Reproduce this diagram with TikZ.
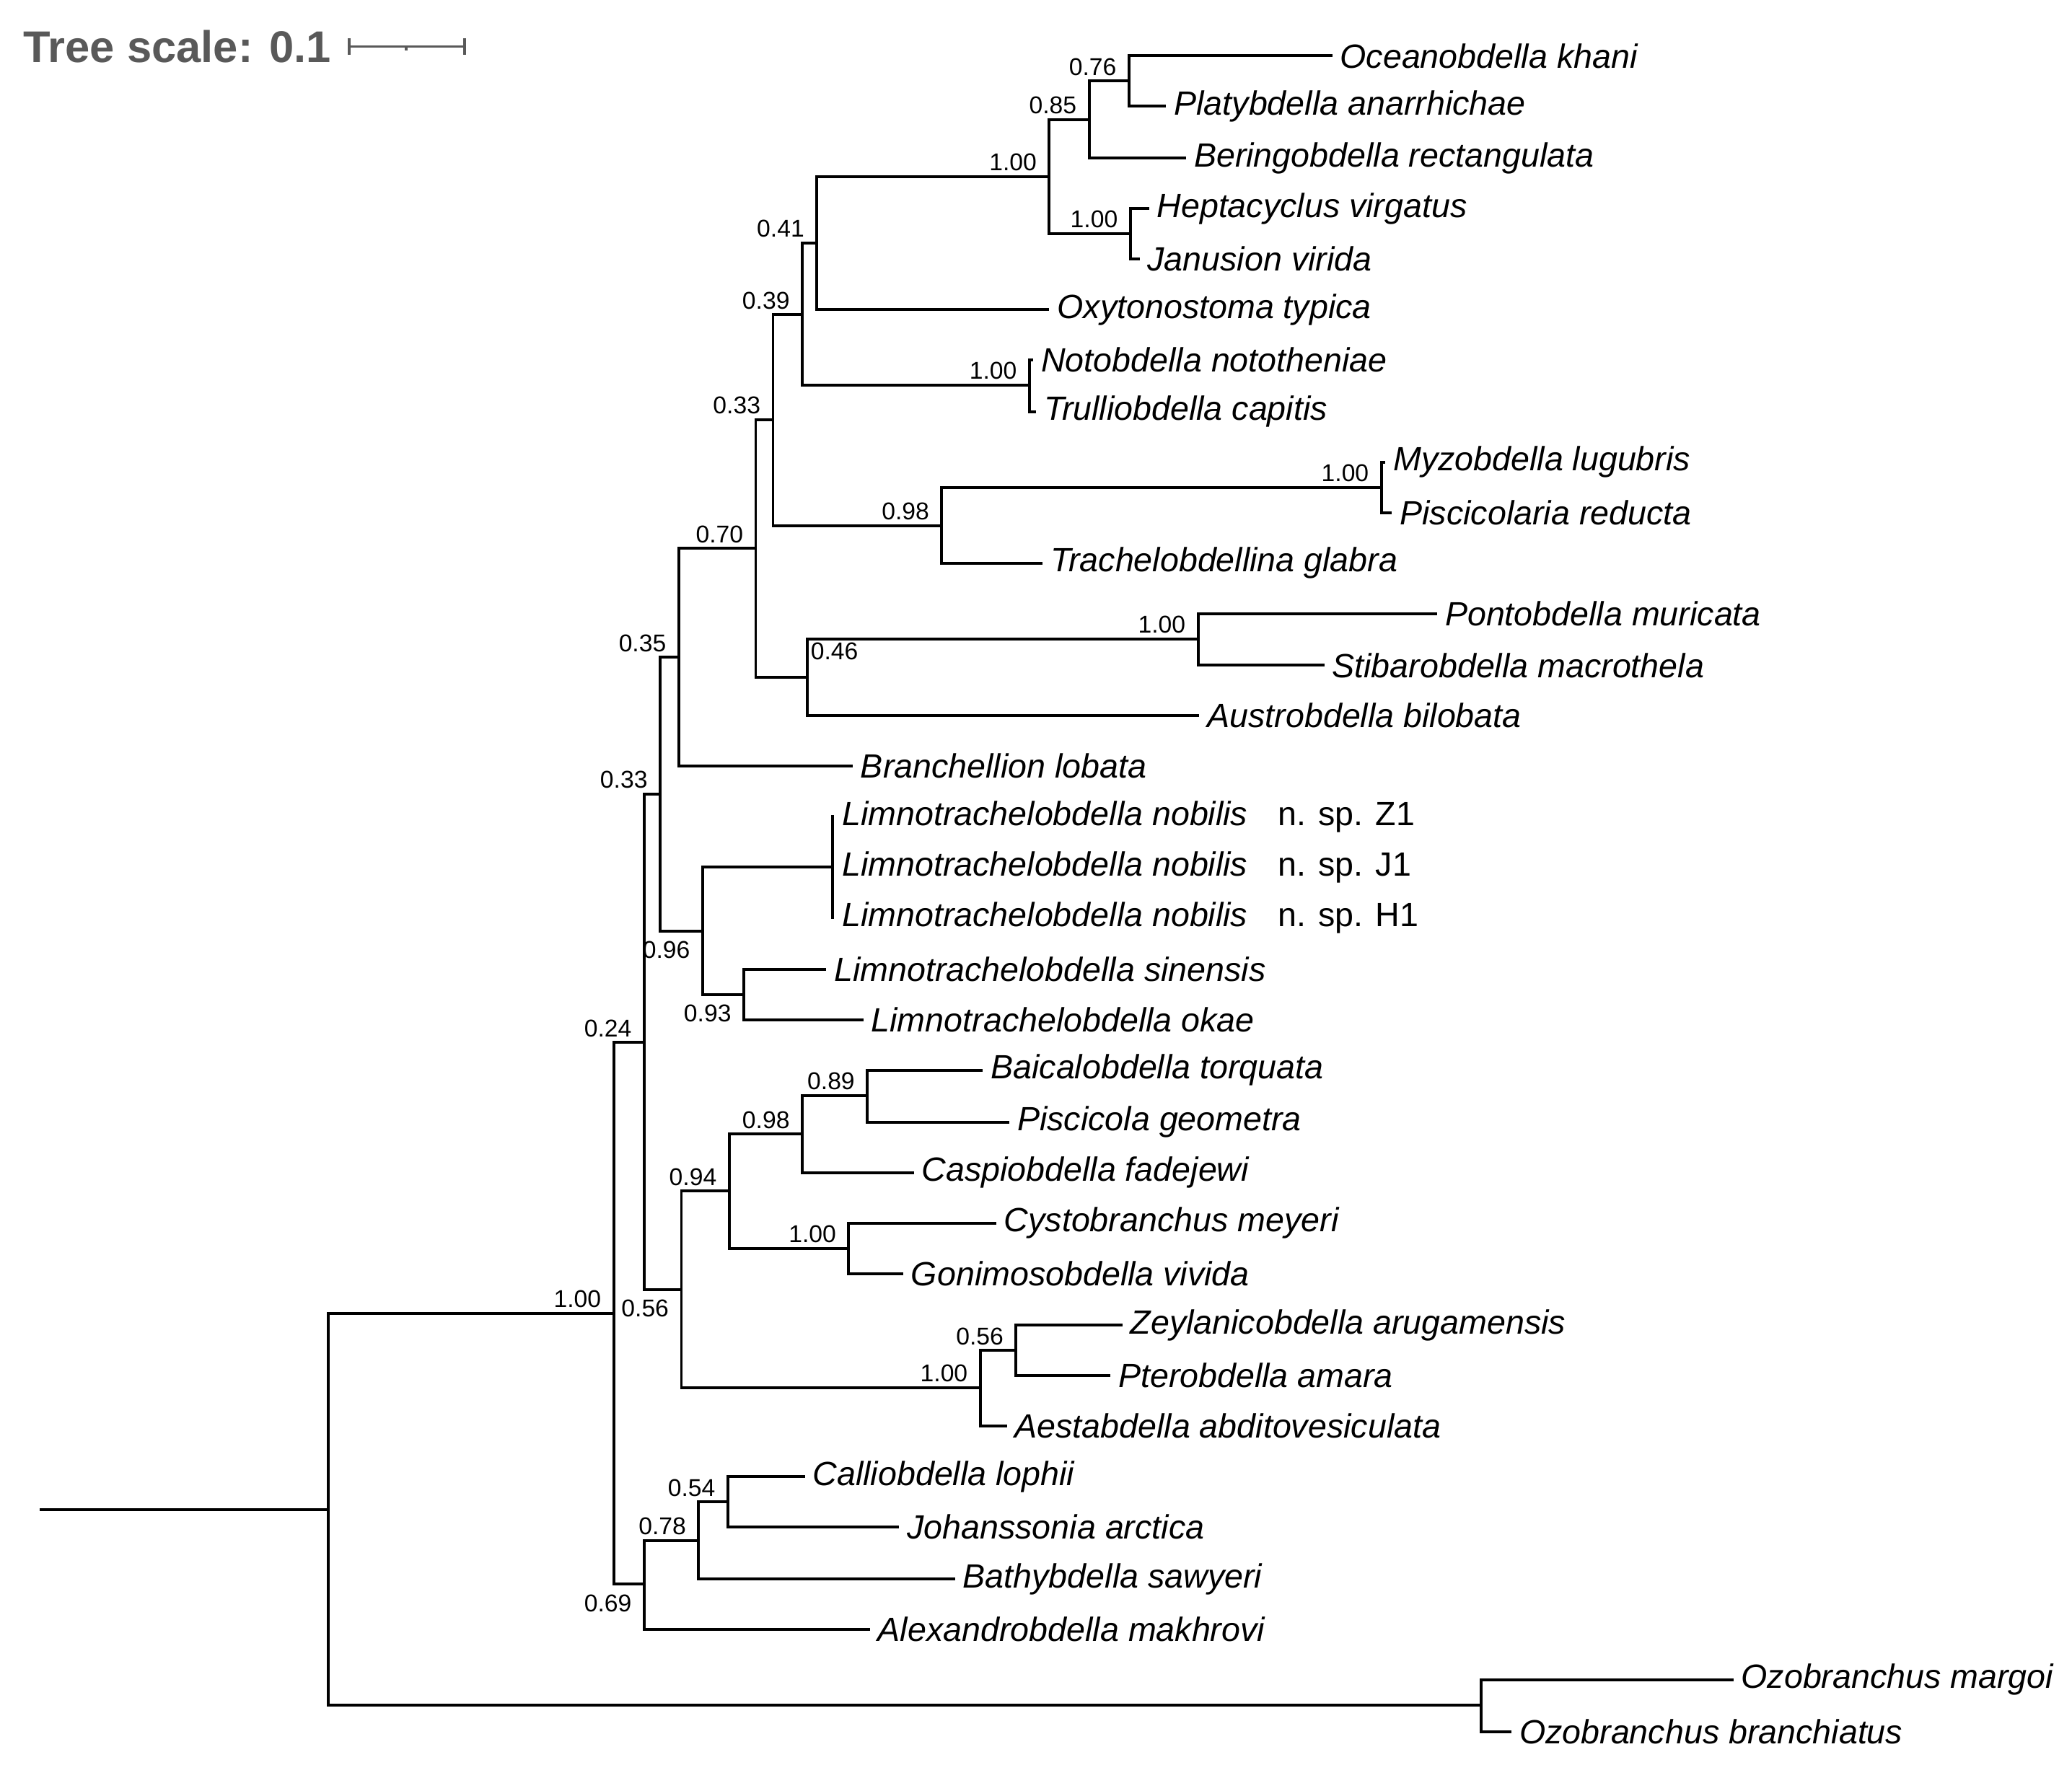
\documentclass[tikz,border=0pt]{standalone}
\usepackage{fontspec}
\setmainfont{Liberation Sans}
\usepackage{tikz}
\usetikzlibrary{positioning}

\tikzset{
  leaf/.style = {anchor = west, inner sep = 1.5pt, font = \fontsize{7.2}{8}\selectfont\itshape},
  bs/.style = {anchor = south east, inner sep = 1pt, xshift = -1.5pt, font = \fontsize{5.2}{6}\selectfont},
  bsb/.style = {bs, anchor = north east, yshift = -1pt},
  br/.style = {line width = 0.6pt},
}

\begin{document}
\begin{tikzpicture}[x = 0.01cm, y = -0.01cm]
\useasboundingbox (0,0) rectangle (1560,1329);
% scale bar
\node[anchor = west, inner sep = 0pt, text = black!65, font = \fontsize{9.5}{11}\selectfont\bfseries] (ts) at (17,35) {Tree scale: 0.1};
\coordinate (sa) at (263,35);
\coordinate (sb) at (350,35);
\draw[black!65, line width = 0.6pt] (sa) -- (sb) (263,29) -- (263,41) (350,29) -- (350,41) (306,35) -- (306,38);
% leaves
\node[leaf] (l1)  at (1003,42)   {Oceanobdella khani};
\node[leaf] (l2)  at (878,80)    {Platybdella anarrhichae};
\node[leaf] (l3)  at (893,119)   {Beringobdella rectangulata};
\node[leaf] (l4)  at (865,157)   {Heptacyclus virgatus};
\node[leaf] (l5)  at (858,195)   {Janusion virida};
\node[leaf] (l6)  at (790,233)   {Oxytonostoma typica};
\node[leaf] (l7)  at (778,271)   {Notobdella nototheniae};
\node[leaf] (l8)  at (780,310)   {Trulliobdella capitis};
\node[leaf] (l9)  at (1043,348)  {Myzobdella lugubris};
\node[leaf] (l10) at (1048,386)  {Piscicolaria reducta};
\node[leaf] (l11) at (785,424)   {Trachelobdellina glabra};
\node[leaf] (l12) at (1082,462)  {Pontobdella muricata};
\node[leaf] (l13) at (997,501)   {Stibarobdella macrothela};
\node[leaf] (l14) at (903,539)   {Austrobdella bilobata};
\node[leaf] (l15) at (642,577)   {Branchellion lobata};
\node[leaf] (l16) at (628,615)   {Limnotrachelobdella nobilis\hspace{0.9em}\upshape n. sp. Z1};
\node[leaf] (l17) at (628,653)   {Limnotrachelobdella nobilis\hspace{0.9em}\upshape n. sp. J1};
\node[leaf] (l18) at (628,691)   {Limnotrachelobdella nobilis\hspace{0.9em}\upshape n. sp. H1};
\node[leaf] (l19) at (622,730)   {Limnotrachelobdella sinensis};
\node[leaf] (l20) at (650,768)   {Limnotrachelobdella okae};
\node[leaf] (l21) at (740,806)   {Baicalobdella torquata};
\node[leaf] (l22) at (760,845)   {Piscicola geometra};
\node[leaf] (l23) at (688,883)   {Caspiobdella fadejewi};
\node[leaf] (l24) at (750,921)   {Cystobranchus meyeri};
\node[leaf] (l25) at (680,959)   {Gonimosobdella vivida};
\node[leaf] (l26) at (845,998)   {Zeylanicobdella arugamensis};
\node[leaf] (l27) at (836,1036)  {Pterobdella amara};
\node[leaf] (l28) at (758,1074)  {Aestabdella abditovesiculata};
\node[leaf] (l29) at (606,1112)  {Calliobdella lophii};
\node[leaf] (l30) at (677,1150)  {Johanssonia arctica};
\node[leaf] (l31) at (719,1189)  {Bathybdella sawyeri};
\node[leaf] (l32) at (655,1227)  {Alexandrobdella makhrovi};
\node[leaf] (l33) at (1305,1265) {Ozobranchus margoi};
\node[leaf] (l34) at (1138,1304) {Ozobranchus branchiatus};
% internal nodes
\coordinate (n1)  at (850,61);
\coordinate (n2)  at (820,90);
\coordinate (n3)  at (851,176);
\coordinate (n4)  at (790,133);
\coordinate (n5)  at (615,183);
\coordinate (n6)  at (775,290);
\coordinate (n7)  at (604,237);
\coordinate (n8)  at (1040,367);
\coordinate (n9)  at (709,396);
\coordinate (n10) at (582,316);
\coordinate (n11) at (902,481);
\coordinate (n12) at (608,510);
\coordinate (n13) at (569,413);
\coordinate (n14) at (511,495);
\coordinate (n15) at (627,653);
\coordinate (n16) at (560,749);
\coordinate (n17) at (529,701);
\coordinate (n18) at (497,598);
\coordinate (n19) at (653,825);
\coordinate (n20) at (604,854);
\coordinate (n21) at (639,940);
\coordinate (n22) at (549,897);
\coordinate (n23) at (765,1017);
\coordinate (n24) at (738,1045);
\coordinate (n25) at (513,971);
\coordinate (n26) at (485,785);
\coordinate (n27) at (548,1131);
\coordinate (n28) at (526,1160);
\coordinate (n29) at (485,1193);
\coordinate (n30) at (462,989);
\coordinate (n31) at (1115,1284);
\coordinate (rt)  at (247,1137);
\coordinate (r0)  at (30,1137);
% branches
\draw[br] (r0) -- (rt);
\draw[br] (rt) |- (n30) (rt) |- (n31);
\draw[br] (n31) |- (l33.west) (n31) |- (l34.west);
\draw[br] (n30) |- (n26) (n30) |- (n29);
\draw[br] (n29) |- (n28) (n29) |- (l32.west);
\draw[br] (n28) |- (n27) (n28) |- (l31.west);
\draw[br] (n27) |- (l29.west) (n27) |- (l30.west);
\draw[br] (n26) |- (n18) (n26) |- (n25);
\draw[br] (n25) |- (n22) (n25) |- (n24);
\draw[br] (n24) |- (n23) (n24) |- (l28.west);
\draw[br] (n23) |- (l26.west) (n23) |- (l27.west);
\draw[br] (n22) |- (n20) (n22) |- (n21);
\draw[br] (n21) |- (l24.west) (n21) |- (l25.west);
\draw[br] (n20) |- (n19) (n20) |- (l23.west);
\draw[br] (n19) |- (l21.west) (n19) |- (l22.west);
\draw[br] (n18) |- (n14) (n18) |- (n17);
\draw[br] (n17) |- (n15) (n17) |- (n16);
\draw[br] (n16) |- (l19.west) (n16) |- (l20.west);
\draw[br] (n15) |- (l16.west) (n15) |- (l17.west) (n15) |- (l18.west);
\draw[br] (n14) |- (n13) (n14) |- (l15.west);
\draw[br] (n13) |- (n10) (n13) |- (n12);
\draw[br] (n12) |- (n11) (n12) |- (l14.west);
\draw[br] (n11) |- (l12.west) (n11) |- (l13.west);
\draw[br] (n10) |- (n7) (n10) |- (n9);
\draw[br] (n9) |- (n8) (n9) |- (l11.west);
\draw[br] (n8) |- (l9.west) (n8) |- (l10.west);
\draw[br] (n7) |- (n5) (n7) |- (n6);
\draw[br] (n6) |- (l7.west) (n6) |- (l8.west);
\draw[br] (n5) |- (n4) (n5) |- (l6.west);
\draw[br] (n4) |- (n2) (n4) |- (n3);
\draw[br] (n3) |- (l4.west) (n3) |- (l5.west);
\draw[br] (n2) |- (n1) (n2) |- (l3.west);
\draw[br] (n1) |- (l1.west) (n1) |- (l2.west);
% support values
\node[bs]  (b1)  at (n1)  {0.76};
\node[bs]  (b2)  at (n2)  {0.85};
\node[bs]  (b3)  at (n3)  {1.00};
\node[bs]  (b4)  at (n4)  {1.00};
\node[bs]  (b5)  at (n5)  {0.41};
\node[bs]  (b6)  at (n6)  {1.00};
\node[bs]  (b7)  at (n7)  {0.39};
\node[bs]  (b8)  at (n8)  {1.00};
\node[bs]  (b9)  at (n9)  {0.98};
\node[bs]  (b10) at (n10) {0.33};
\node[bs]  (b11) at (n11) {1.00};
\node[bs, anchor = south west, xshift = 1pt] (b12) at (n12 |- l13) {0.46};
\node[bs]  (b13) at (n13) {0.70};
\node[bs]  (b14) at (n14) {0.35};
\node[bsb] (b16) at (n16) {0.93};
\node[bsb] (b17) at (n17) {0.96};
\node[bs]  (b18) at (n18) {0.33};
\node[bs]  (b19) at (n19) {0.89};
\node[bs]  (b20) at (n20) {0.98};
\node[bs]  (b21) at (n21) {1.00};
\node[bs]  (b22) at (n22) {0.94};
\node[bs]  (b23) at (n23) {0.56};
\node[bs]  (b24) at (n24) {1.00};
\node[bsb] (b25) at (n25) {0.56};
\node[bs]  (b26) at (n26) {0.24};
\node[bs]  (b27) at (n27) {0.54};
\node[bs]  (b28) at (n28) {0.78};
\node[bsb] (b29) at (n29) {0.69};
\node[bs]  (b30) at (n30) {1.00};
\end{tikzpicture}
\end{document}
